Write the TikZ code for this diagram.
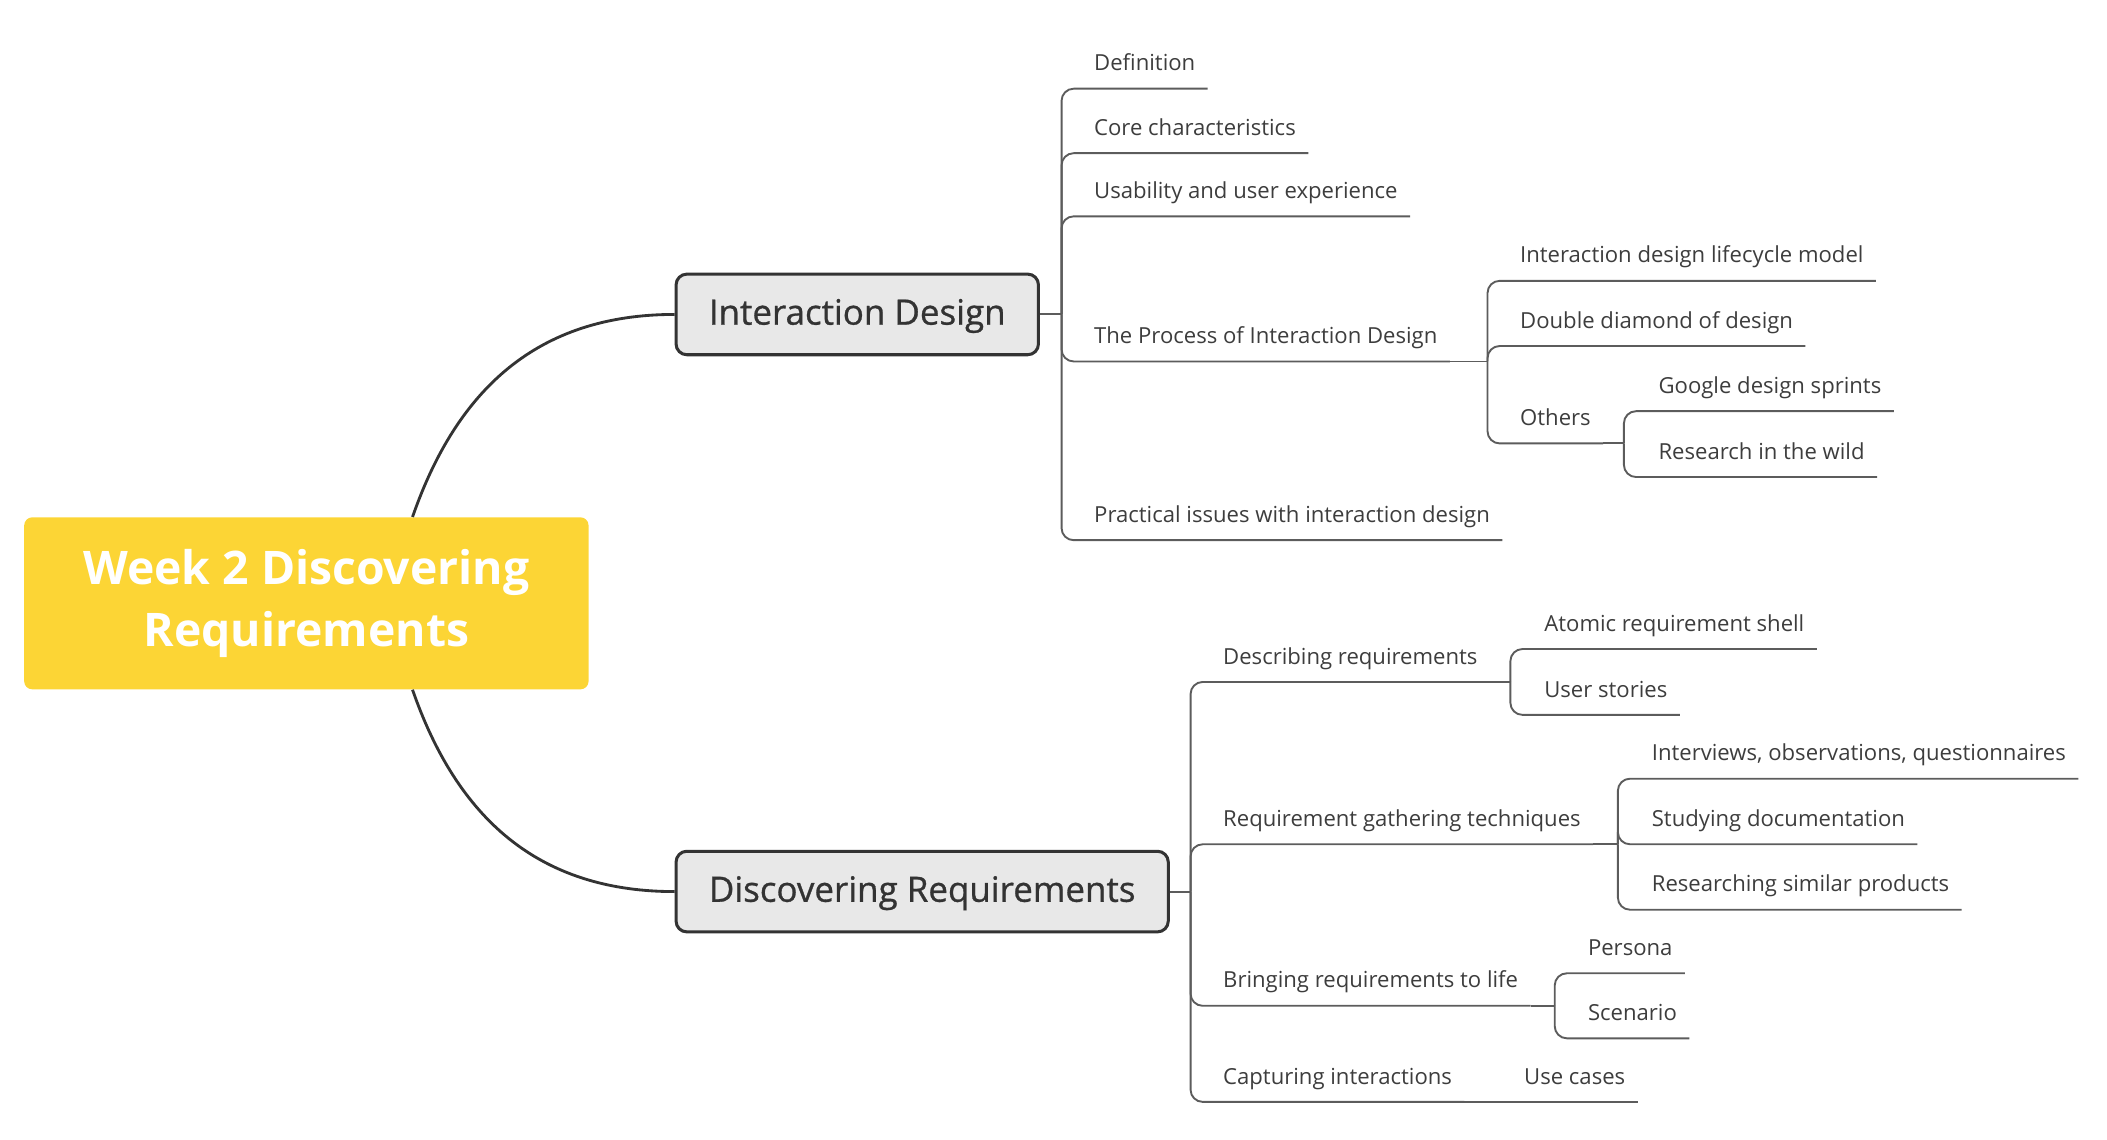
\documentclass[tikz,border=0pt]{standalone}
\usepackage{fontspec}
\setmainfont{Open Sans}
\newfontfamily\topicfont[FakeBold=0.8]{Open Sans}
\usetikzlibrary{positioning, calc}
\definecolor{rootyellow}{HTML}{FCD535}
\definecolor{boxgray}{HTML}{E8E8E8}
\definecolor{inkdark}{HTML}{333333}
\definecolor{linegray}{HTML}{5C5C5C}
\definecolor{leaftext}{HTML}{3D3D3D}

\begin{document}
\begin{tikzpicture}[x=0.25mm, y=-0.25mm,
  root/.style={fill=rootyellow, rounded corners=1.5mm, text=white,
    font=\fontsize{24.5}{32.7}\selectfont\bfseries, align=center,
    minimum width=105mm, minimum height=32mm},
  topic/.style={draw=inkdark, line width=1.6pt, fill=boxgray, rounded corners=2mm,
    text=inkdark, font=\topicfont\fontsize{18.5}{22}\selectfont, inner xsep=6.1mm,
    text height=4.6mm, text depth=0.8mm, minimum height=15mm, anchor=west},
  leaf/.style={text=leaftext, font=\fontsize{11.7}{14}\selectfont, inner xsep=2.25mm,
    inner ysep=0pt, text height=3mm, text depth=3.25mm, anchor=south west},
  curve/.style={draw=inkdark, line width=1.5pt},
  link/.style={draw=linegray, line width=1pt, rounded corners=2.25mm}]

% Canvas
\useasboundingbox (0,0) rectangle (1568,848);

% Central topic
\node[root] (root) at (228,449) {\rule{0pt}{6mm}Week 2 Discovering\\Requirements};

% Main topics
\node[topic] (intd) at (502,234) {Interaction Design};
\node[topic] (drq) at (502,663.5) {Discovering Requirements};

\draw[curve] ([xshift=19.75mm]root.north) .. controls +(33,-95) and +(-102,0) .. (intd.west);
\draw[curve] ([xshift=19.75mm]root.south) .. controls +(33,95) and +(-102,0) .. (drq.west);

% Interaction Design subtopics
\node[leaf] (defn) at (805,66) {Definition};
\node[leaf] (core) at (805,114) {Core characteristics};
\node[leaf] (usab) at (805,161) {Usability and user experience};
\node[leaf] (proc) at (805,269) {The Process of Interaction Design};
\node[leaf] (pract) at (805,402) {Practical issues with interaction design};

\coordinate (idfork) at (790,234);
\draw[link] (intd.east) -- (idfork);
\foreach \n in {defn,core,usab,proc,pract}
  \draw[link] (idfork) |- (\n.south east);

% The Process of Interaction Design
\node[leaf] (life) at (1122,209) {Interaction design lifecycle model};
\node[leaf] (ddia) at (1122,257.5) {Double diamond of design};
\node[leaf] (others) at (1122,330) {Others};

\coordinate (procfork) at (1107,269);
\draw[link] (proc.south east) -- (procfork);
\foreach \n in {life,ddia,others}
  \draw[link] (procfork) |- (\n.south east);

% Others
\node[leaf] (gds) at (1225,306) {Google design sprints};
\node[leaf] (wild) at (1225,355) {Research in the wild};

\coordinate (othfork) at (1208.5,330);
\draw[link] (others.south east) -- (othfork);
\foreach \n in {gds,wild}
  \draw[link] (othfork) |- (\n.south east);

% Discovering Requirements subtopics
\node[leaf] (desc) at (901,507.5) {Describing requirements};
\node[leaf] (gath) at (901,628.3) {Requirement gathering techniques};
\node[leaf] (bring) at (901,748.5) {Bringing requirements to life};
\node[leaf] (capt) at (901,820) {Capturing interactions};

\coordinate (drfork) at (886,663.5);
\draw[link] (drq.east) -- (drfork);
\foreach \n in {desc,gath,bring,capt}
  \draw[link] (drfork) |- (\n.south east);

% Describing requirements
\node[leaf] (atom) at (1140,483) {Atomic requirement shell};
\node[leaf] (story) at (1140,532) {User stories};

\coordinate (descfork) at (1124,507.5);
\draw[link] (desc.south east) -- (descfork);
\foreach \n in {atom,story}
  \draw[link] (descfork) |- (\n.south east);

% Requirement gathering techniques
\node[leaf] (intv) at (1220,579.5) {Interviews, observations, questionnaires};
\node[leaf] (study) at (1220,628.3) {Studying documentation};
\node[leaf] (resr) at (1220,677) {Researching similar products};

\coordinate (gathfork) at (1204,628.3);
\draw[link] (gath.south east) -- (gathfork);
\foreach \n in {intv,study,resr}
  \draw[link] (gathfork) |- (\n.south east);

% Bringing requirements to life
\node[leaf] (pers) at (1172.5,724.3) {Persona};
\node[leaf] (scen) at (1172.5,772.7) {Scenario};

\coordinate (bringfork) at (1157,748.5);
\draw[link] (bring.south east) -- (bringfork);
\foreach \n in {pers,scen}
  \draw[link] (bringfork) |- (\n.south east);

% Capturing interactions
\node[leaf] (usec) at (1125,820) {Use cases};
\draw[link] (capt.south east) -- (usec.south east);

\end{tikzpicture}
\end{document}
